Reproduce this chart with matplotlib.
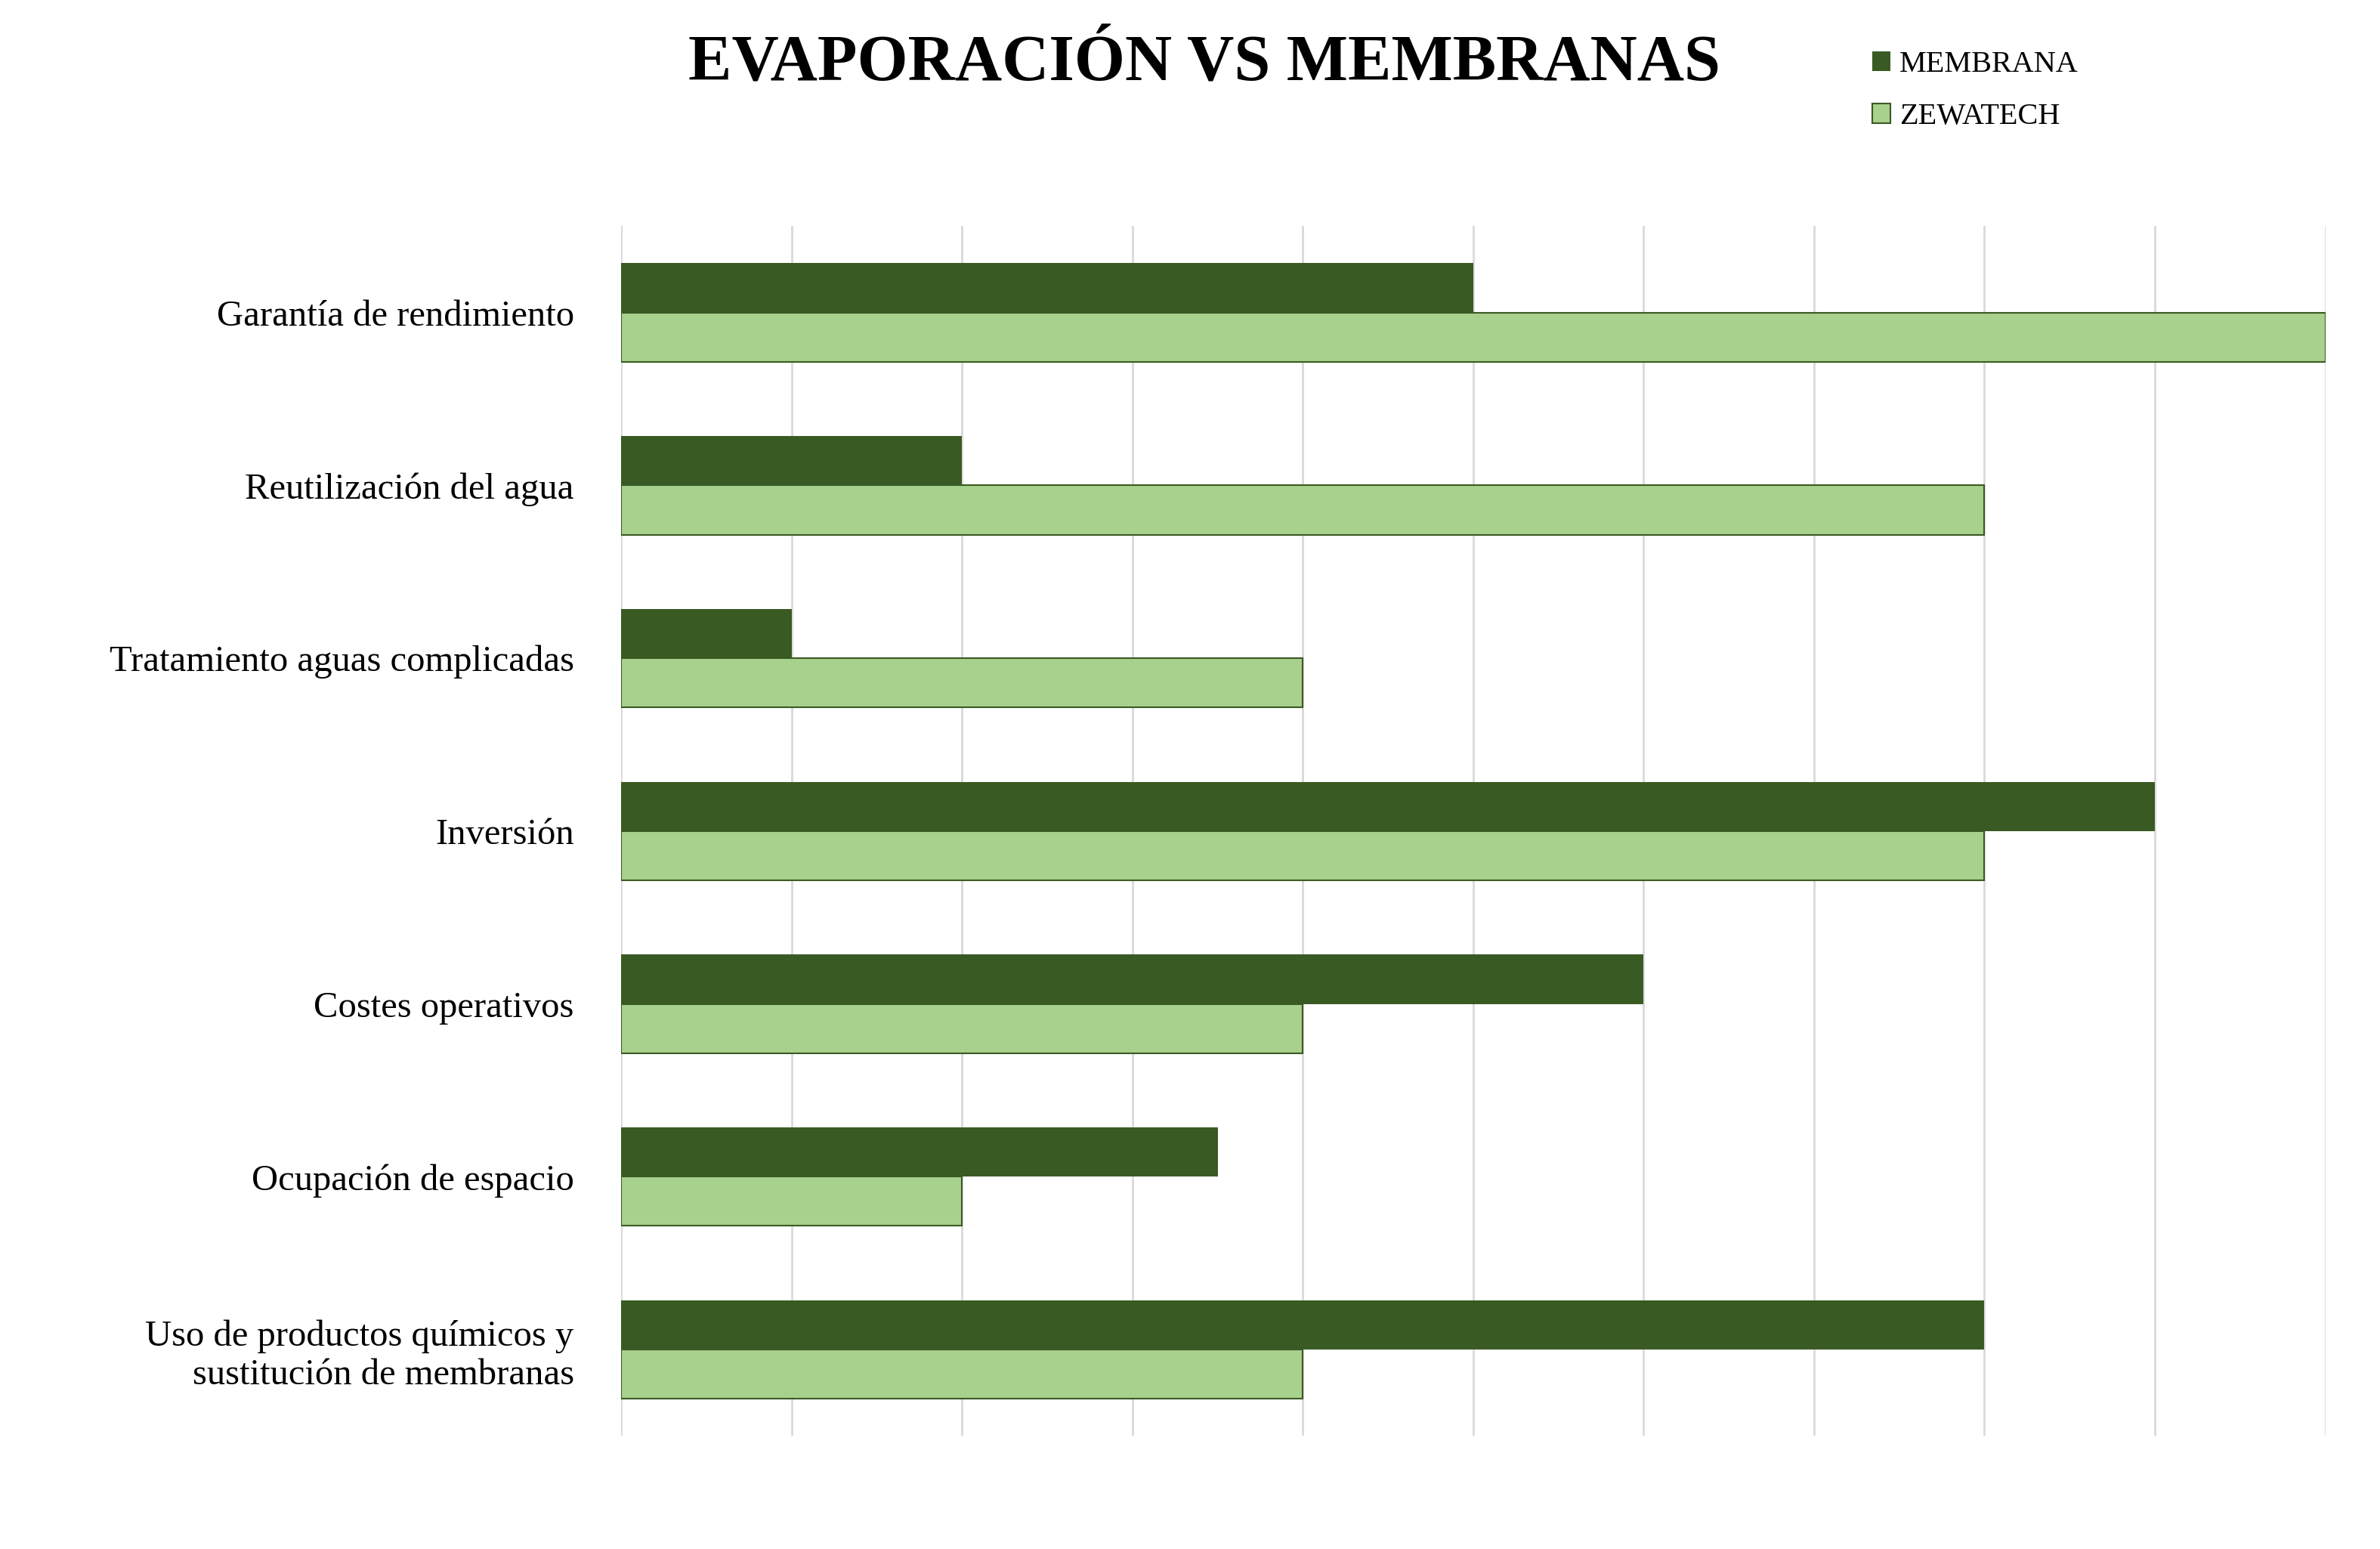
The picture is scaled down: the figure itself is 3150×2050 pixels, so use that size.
import numpy as np
import matplotlib.pyplot as plt
from matplotlib.patches import Patch

categories = [
    "Garantía de rendimiento",
    "Reutilización del agua",
    "Tratamiento aguas complicadas",
    "Inversión",
    "Costes operativos",
    "Ocupación de espacio",
    "Uso de productos químicos y\nsustitución de membranas",
]
membrana = [5, 2, 1, 9, 6, 3.5, 8]
zewatech = [10, 8, 4, 8, 4, 2, 4]

DARK = "#3a5a23"
LIGHT = "#a9d18e"

plt.rcParams["font.family"] = "Liberation Serif"

fig = plt.figure(figsize=(31.5, 20.5), dpi=100)
ax = fig.add_axes([0.261, 0.073, 0.716, 0.781])

y = np.arange(len(categories))
h = 0.285
ax.barh(y - h / 2, membrana, height=h, color=DARK, label="MEMBRANA")
ax.barh(y + h / 2, zewatech, height=h, color=LIGHT, edgecolor=DARK,
        linewidth=1.5, label="ZEWATECH")

ax.set_xlim(0, 10)
ax.set_ylim(len(categories) - 0.5, -0.5)
ax.set_xticks(range(0, 11))
ax.set_xticklabels([])
ax.tick_params(axis="x", length=0)
ax.tick_params(axis="y", length=0, pad=45, labelsize=35)
ax.set_yticks(y)
ax.set_yticklabels(categories, ha="right")
ax.grid(axis="x", color="#d9d9d9", linewidth=2)
ax.set_axisbelow(True)
for s in ax.spines.values():
    s.set_visible(False)

fig.text(0.506, 0.958, "EVAPORACIÓN VS MEMBRANAS", ha="center", va="center",
         fontsize=62, fontweight="bold")

handles = [Patch(facecolor=DARK, label="MEMBRANA"),
           Patch(facecolor=LIGHT, edgecolor=DARK, linewidth=1.5, label="ZEWATECH")]
fig.legend(handles=handles, loc="upper left", bbox_to_anchor=(0.775, 0.985),
           frameon=False, fontsize=29, handlelength=0.6, handleheight=0.6,
           handletextpad=0.3, labelspacing=0.8)

fig.savefig("out.png", dpi=100)
